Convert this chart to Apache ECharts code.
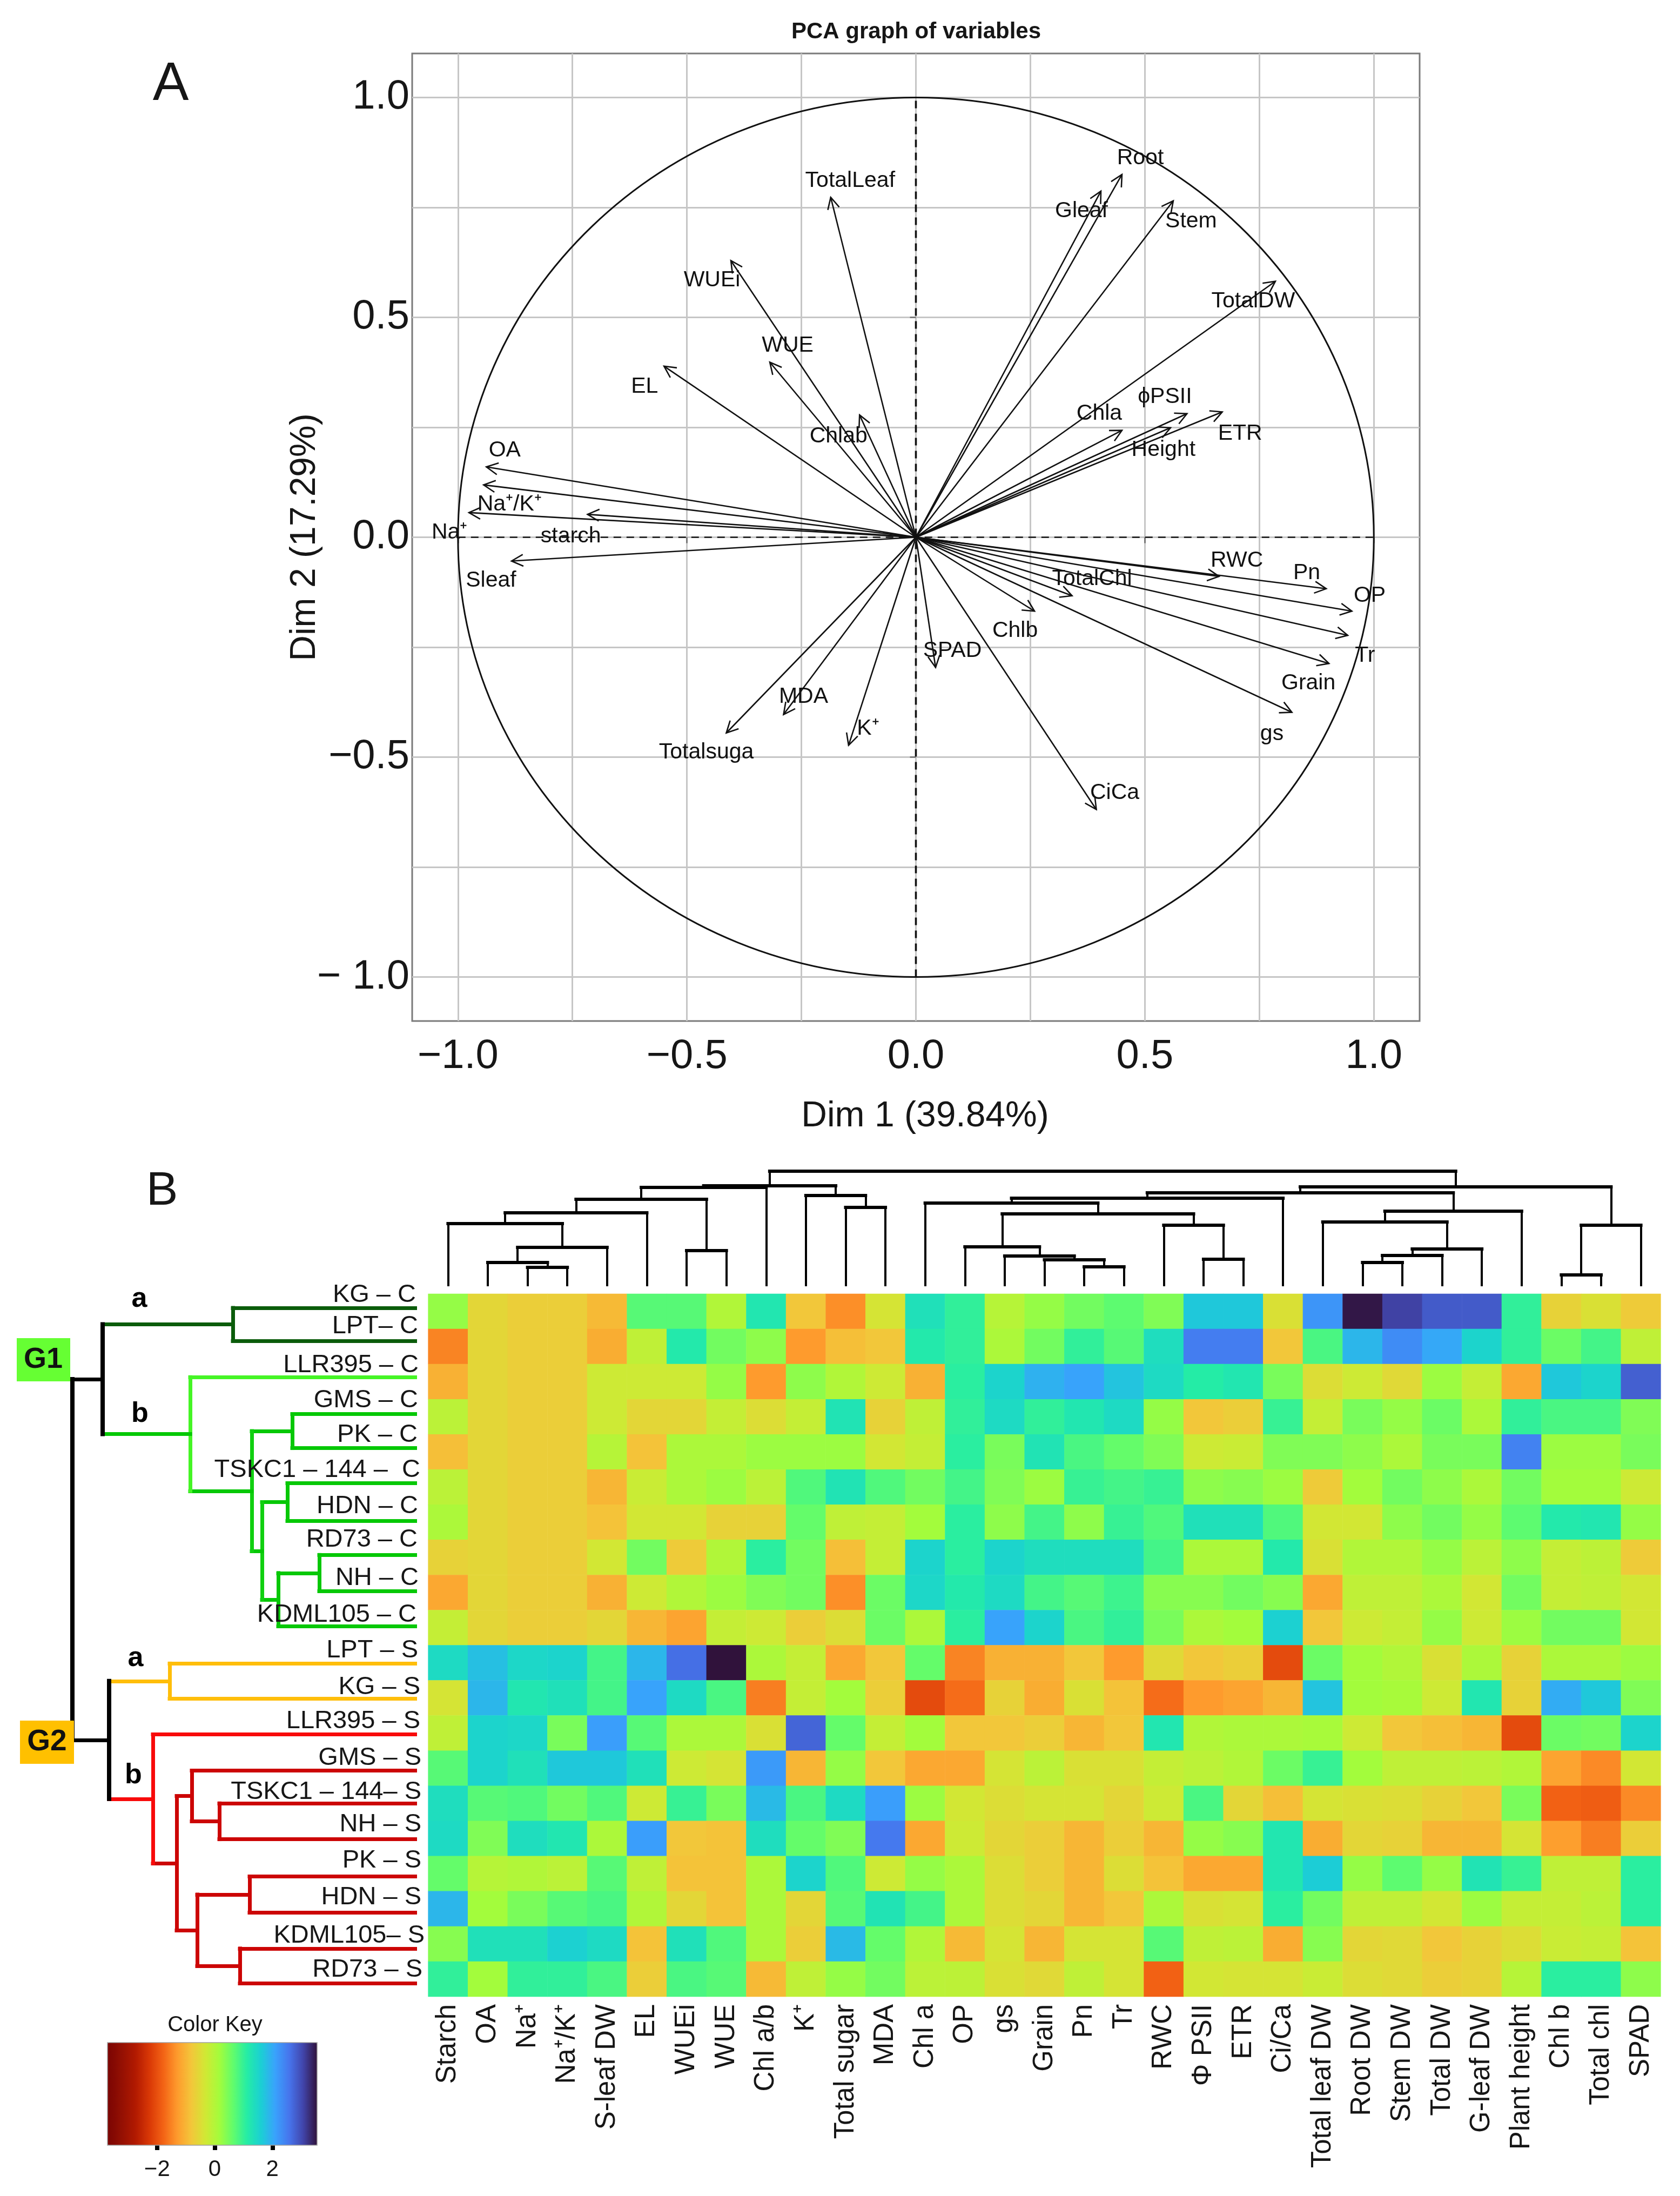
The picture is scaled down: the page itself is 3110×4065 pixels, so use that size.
<!DOCTYPE html>
<html><head><meta charset="utf-8">
<script src="https://cdn.jsdelivr.net/npm/echarts@6/dist/echarts.min.js"></script>
<style>html,body{margin:0;padding:0;background:#fff}#c{width:3110px;height:4065px}</style>
</head><body><div id="c"></div>
<script>
// ---------- Panel A data: variable loadings on Dim 1 / Dim 2 ----------
const pcaNames = ['TotalLeaf','WUEi','WUE','EL','Chlab','OA','Na⁺/K⁺','Na⁺','starch','Sleaf','Gleaf','Root','Stem','TotalDW','Chla','ϕPSII','Height','ETR','RWC','Pn','OP','Tr','Grain','gs','TotalChl','Chlb','SPAD','CiCa','Totalsuga','MDA','K⁺'];
const pcaDim1 = [-0.186,-0.404,-0.319,-0.550,-0.123,-0.938,-0.944,-0.976,-0.717,-0.883,0.404,0.450,0.562,0.785,0.450,0.592,0.556,0.669,0.662,0.896,0.952,0.943,0.902,0.821,0.341,0.259,0.043,0.394,-0.414,-0.289,-0.147];
const pcaDim2 = [0.773,0.629,0.398,0.389,0.278,0.160,0.119,0.056,0.052,-0.054,0.787,0.825,0.765,0.582,0.243,0.281,0.249,0.285,-0.089,-0.117,-0.168,-0.223,-0.287,-0.398,-0.133,-0.168,-0.296,-0.619,-0.445,-0.403,-0.473];

// ---------- Panel B data ----------
const rowNames = ['KG – C','LPT– C','LLR395 – C','GMS – C','PK – C','TSKC1 – 144 –  C','HDN – C','RD73 – C','NH – C','KDML105 – C','LPT – S','KG – S','LLR395 – S','GMS – S','TSKC1 – 144– S','NH – S','PK – S','HDN – S','KDML105– S','RD73 – S'];
const colNames = ['Starch','OA','Na⁺','Na⁺/K⁺','S-leaf DW','EL','WUEi','WUE','Chl a/b','K⁺','Total sugar','MDA','Chl a','OP','gs','Grain','Pn','Tr','RWC','Φ PSII','ETR','Ci/Ca','Total leaf DW','Root DW','Stem DW','Total DW','G-leaf DW','Plant height','Chl b','Total chl','SPAD'];
const rowKGC  = [.35,-.5,-.6,-.6,-.85,.8,.8,.1,1.3,-.7,-1.3,-.3,1.4,1.1,.05,.35,.6,.75,.5,1.75,1.75,-.35,2.3,3.55,3.15,2.9,2.9,1.1,-.55,-.35,-.65];
const rowLPTC = [-1.4,-.5,-.6,-.6,-1,-.05,1.25,.6,.4,-1.2,-.8,-.7,1.25,1.1,.15,.6,1.1,.8,1.45,2.55,2.55,-.7,.9,1.95,2.4,2.1,1.6,1.1,.65,.95,-.05];
const rowLLRC = [-.95,-.5,-.6,-.6,-.2,-.2,-.2,.35,-1.2,.4,.1,-.2,-.95,1.15,1.6,2,2.15,1.8,1.5,1.2,1.3,.55,-.4,-.2,-.45,.3,-.1,-1.05,1.75,1.6,2.85];
const rowGMSC = [0,-.5,-.6,-.6,-.2,-.5,-.5,-.1,-.4,-.1,1.35,-.55,-.05,1.1,1.5,1.1,1.3,1.5,.35,-.7,-.6,1.05,-.1,.55,.35,.65,.15,1.1,.9,.9,.5];
const rowPKC  = [-.8,-.5,-.6,-.6,.05,-.75,.15,.15,.3,.3,.3,-.25,-.1,1.15,.55,1.35,.9,.7,.5,-.2,-.15,.5,.5,.4,.15,.55,.55,2.5,.3,.3,.55];
const rowTSKC = [0,-.5,-.6,-.6,-.9,-.15,.15,.3,0,.85,1.35,.85,.6,.95,.5,.3,1.05,.95,1.05,.4,.45,.3,-.65,.25,.6,.4,.15,.6,.25,.25,-.2];
const rowHDNC = [.15,-.5,-.6,-.6,-.75,-.25,-.25,-.55,-.55,.7,-.05,-.1,.25,1.15,.4,.95,.4,1.05,.85,1.4,1.4,.85,-.25,-.25,.4,.6,.35,.75,1.25,1.3,.35];
const rowRDC  = [-.55,-.5,-.6,-.6,-.25,.6,-.65,.1,1.15,.6,-.8,-.1,1.6,1.15,1.6,1.45,1.45,1.45,.95,.15,.15,1.25,-.35,.1,.1,.35,0,.4,-.1,-.02,-.65];
const rowNHC  = [-1.05,-.5,-.6,-.6,-.95,-.2,.1,.3,.5,.6,-1.3,.65,1.55,1.25,1.5,.95,.8,1,.45,.45,.6,.45,-1.05,-.05,-.05,.15,-.25,.6,-.1,-.05,-.25];
const rowKDC  = [-.1,-.5,-.6,-.6,-.5,-.9,-1.1,-.1,-.2,-.6,-.4,.65,.15,1.15,2.15,1.6,.9,1.1,.55,.15,.25,1.65,-.7,-.2,-.1,.35,-.2,.3,.6,.6,-.25];
const rowLPTS = [1.5,1.85,1.55,1.6,.95,1.95,2.7,3.6,.15,-.1,-1.05,-.7,.7,-1.4,-.95,-.95,-.7,-1.2,-.45,-.7,-.6,-1.95,.65,.25,.1,-.35,.15,-.55,.15,.15,.3];
const rowKGS  = [-.3,1.95,1.3,1.4,.95,2.15,1.5,.9,-1.45,-.1,.25,-.6,-1.95,-1.6,-.55,-1,-.35,-.75,-1.6,-1.2,-1.1,-.9,1.8,.25,.2,-.2,1.3,-.55,2.05,1.75,.5];
const rowLLRS = [-.05,1.6,1.55,.55,2.2,.8,.15,.15,-.35,2.8,.7,-.1,.25,-.7,-.7,-.6,-.9,-.7,1.3,.1,.15,.15,.2,-.2,-.7,-.8,-.9,-1.95,.65,.6,1.6];
const rowGMSS = [.8,1.6,1.4,1.75,1.75,1.4,-.2,-.3,2.25,-.9,.35,-.7,-1.05,-1.05,-.3,0,-.35,-.35,-.1,0,.1,.65,1.05,.25,-.05,-.05,0,.1,-1.1,-1.35,-.25];
const rowTSKS = [1.45,.8,.85,.6,.85,-.2,1.05,.55,1.9,.9,1.5,2.2,.3,-.25,-.4,-.3,-.3,-.5,-.2,.9,-.5,-.8,-.3,-.35,-.4,-.55,-.7,.55,-1.7,-1.75,-1.35];
const rowNHS  = [1.5,.5,1.45,1.3,.15,2.2,-.7,-.75,1.45,.7,.5,2.6,-1.05,-.2,-.5,-.6,-.9,-.6,-.9,.35,.45,1.3,-1,-.5,-.55,-.9,-.9,-.3,-1.15,-1.45,-.6];
const rowPKS  = [.7,.05,.1,0,.8,-.05,-.75,-.75,.15,1.6,.85,-.2,.35,.15,-.4,-.6,-.9,-.4,-.75,-1.05,-1.05,1.3,1.7,.35,.75,.35,1.35,1.05,-.05,-.05,1.15];
const rowHDNS = [1.95,.25,.55,.8,.9,.1,-.5,-.75,.15,-.5,.8,1.35,.95,.15,-.4,-.5,-.9,-.7,.15,-.35,-.3,1.15,.6,-.05,-.05,-.25,.3,-.1,-.1,0,1.15];
const rowKDS  = [.45,1.4,1.4,1.65,1.5,-.75,1.4,.85,.15,-.6,1.9,.7,.1,-.85,-.3,-.9,-.3,-.3,.8,-.05,0,-1,.45,-.5,-.45,-.7,-.55,-.4,-.15,-.1,-.75];
const rowRDS  = [1.1,.25,1.1,1.1,.9,-.6,.9,.8,-.85,-.05,.35,.6,0,-.02,-.35,-.45,-.05,-.3,-1.7,-.25,-.3,-.3,-.15,-.4,-.45,-.6,-.55,.05,1.15,1.15,.4];
const heatRows = [rowKGC,rowLPTC,rowLLRC,rowGMSC,rowPKC,rowTSKC,rowHDNC,rowRDC,rowNHC,rowKDC,rowLPTS,rowKGS,rowLLRS,rowGMSS,rowTSKS,rowNHS,rowPKS,rowHDNS,rowKDS,rowRDS];
const keyTicks = [-2,0,2];

// row dendrogram: [name, merge height, left, right]; a number is a row index
const rowLeafPos = [-.1,.84,1.87,2.92,3.89,4.89,5.96,6.93,7.96,8.96,10.02,11.02,12.04,13.07,14,15.02,16.08,17.11,18.13,19.12];
const rowTree = ['root',638,
  ['G1',582,
    ['G1a',341,0,1],
    ['G1b',420,2,['X',306,['Y1',231,3,4],['Y2',287,['Z1',240,5,6],['Z2',257,['Z3',181,7,8],9]]]]],
  ['G2',570,
    ['G2a',458,10,11],
    ['G2b',489,12,['P',445,['Q',417,13,['Q1',366,14,15]],['R',407,['R1',310,16,17],['R2',328,18,19]]]]]];
// column dendrogram: [merge height, left, right]; a number is a column index
const colTree = [213,
  [186,
    [183,[161,[136,[116,0,[72,[44,1,[35,2,3]],4]],5],[66,6,7]],8],
    [168,9,[146,10,11]]],
  [184,
    [173,
      [163,[154,12,[134,[73,13,[56,14,[49,15,[36,16,17]]]],[113,18,[50,19,20]]]],21],
      [139,[119,22,[69,[57,[44,23,24],25],26]],27]],
    [113,[21,28,29],30]]];

// ---------- layout and style tables ----------
const INK = '#161616', FONT = '"Liberation Sans", Arial, sans-serif';
const pcaLabelShift = [[36,-31],[-35,36],[33,-31],[-36,38],[-39,40],[34,-31],[48,36],[-36,37],[-31,41],[-38,36],[-36,37],[34,-30],[33,38],[-41,37],[-42,-31],[-41,-31],[-13,41],[33,40],[33,-29],[-36,-29],[33,-29],[32,38],[-38,37],[-37,40],[37,-31],[-36,36],[31,-31],[34,-31],[-37,36],[37,-33],[36,-31]];
const rowLabelRight = [770,774,775,774,773,778,774,773,775,771,774,778,778,780,780,780,780,780,786,782];
const rowLabelDy = [-30,-38,-31,-31,-32,-32,-30,-33,-27,-24,-23,-20,-22,-19,-21,-26,-24,-21,-15,-17];
const DG='#0b5c0b', G='#06c806', LG='#45f525', GOLD='#ffbe0a', RED='#f80a0a', DR='#cc0505', BK='#000';
const rowColors = {root:[BK,BK],G1:[BK,BK],G1a:[DG,DG],G1b:[G,LG],X:[G,'#10d010'],Y1:[G,G],Y2:[G,'#10d010'],Z1:[G,G],Z2:[G,G],Z3:[G,G],
  G2:[BK,BK],G2a:[GOLD,GOLD],G2b:[RED,RED],P:[DR,DR],Q:[DR,DR],Q1:[DR,DR],R:[DR,DR],R1:[DR,DR],R2:[DR,DR]};
const turboLowToHigh = ['#7a0403','#931003','#b11901','#d93806','#f36315','#fe9b2d','#f3c63a','#d1e834','#a4fc3b','#61fc6c','#24eca6','#1bcfd4','#39a2fc','#4675ed','#4145ab','#30123b'];

// ---------- build marks ----------
const heatData = [];
heatRows.forEach((r,j)=>r.forEach((v,i)=>heatData.push([i,j,v])));

const rowSegs = [];
function walkRow(n){
  if (typeof n === 'number') return rowLeafPos[n];
  const [name,h,a,b] = n, c = rowColors[name];
  const ya = walkRow(a), yb = walkRow(b), w = name==='root'||name==='G1'||name==='G2' ? 8 : 7;
  [[a,ya],[b,yb]].forEach(([k,y])=>{
    if (typeof k === 'number') rowSegs.push({coords:[[h,y],[0,y]],lineStyle:{color:c[1],width:7,opacity:1,cap:'square'}});
    else rowSegs.push({coords:[[h,y],[k[1],y]],lineStyle:{color:rowColors[k[0]][0],width:7,opacity:1,cap:'square'}});
  });
  rowSegs.push({coords:[[h,ya],[h,yb]],lineStyle:{color:c[1],width:w,opacity:1,cap:'square'}});
  return (ya+yb)/2;
}
walkRow(rowTree);

const colSegs = [];
function walkCol(n){
  if (typeof n === 'number') return n;
  const [h,a,b] = n, xa = walkCol(a), xb = walkCol(b);
  const ha = typeof a === 'number' ? 0 : a[0], hb = typeof b === 'number' ? 0 : b[0];
  colSegs.push({coords:[[xa,ha],[xa,h]],lineStyle:{color:'#000',width:4,opacity:1}},{coords:[[xb,hb],[xb,h]],lineStyle:{color:'#000',width:4,opacity:1}},{coords:[[xa,h],[xb,h]],lineStyle:{color:'#000',width:6,opacity:1,cap:'square'}});
  return (xa+xb)/2;
}
walkCol(colTree);

const gridVals = [-1,-.75,-.5,-.25,0,.25,.5,.75,1], majorVals = [-1,-.5,0,.5,1];
const xFmt = v => (v<0?'−':'')+Math.abs(v).toFixed(1);
const yFmt = v => v===-1 ? '− 1.0' : (v<0?'−':'')+Math.abs(v).toFixed(1);
const txt = (text,x,y,size,extra) => ({type:'text',silent:true,z:50,x,y,style:Object.assign({text,font:`${size}px ${FONT}`,fill:INK,align:'center',verticalAlign:'middle'},extra||{})});

const option = {
  animation:false, backgroundColor:'#fff',
  title:[{text:'PCA graph of variables',left:1691,top:54,textAlign:'center',textVerticalAlign:'middle',textStyle:{fontFamily:FONT,fontWeight:'bold',fontSize:42,color:INK}}],
  grid:[
    {left:763,top:99,width:1865,height:1791,show:true,borderColor:'#7a7a7a',borderWidth:3,backgroundColor:'transparent'},
    {left:792.6,top:2395,width:2281.8,height:1301},
    {left:0,top:2395,width:772,height:1301},
    {left:792.6,top:2150,width:2281.8,height:231},
    {left:199,top:3781,width:388,height:190}
  ],
  xAxis:[
    {type:'value',gridIndex:0,min:-1.1,max:1.1,position:'top',axisLine:{show:false},axisTick:{show:false,customValues:gridVals},axisLabel:{show:false,customValues:gridVals},splitLine:{show:true,lineStyle:{color:'#c6c6c6',width:3}}},
    {type:'value',gridIndex:0,min:-1.1,max:1.1,position:'bottom',axisLine:{show:false},axisTick:{show:true,length:11,customValues:majorVals,lineStyle:{color:'#7a7a7a',width:3}},axisLabel:{show:true,customValues:majorVals,formatter:xFmt,fontFamily:FONT,fontSize:76,color:INK,margin:28},splitLine:{show:false},
     name:'Dim 1 (39.84%)',nameLocation:'middle',nameGap:144,nameTextStyle:{fontFamily:FONT,fontSize:66,color:INK,padding:[0,0,0,34]}},
    {type:'category',gridIndex:1,data:colNames,position:'bottom',axisLine:{show:false},axisTick:{show:false},axisLabel:{interval:0,rotate:90,fontFamily:FONT,fontSize:51,color:INK,margin:14},splitLine:{show:false}},
    {type:'value',gridIndex:2,min:0,max:772,inverse:true,show:false},
    {type:'value',gridIndex:3,min:-0.5,max:30.5,show:false},
    {type:'value',gridIndex:4,min:-3.72,max:3.55,axisLine:{show:false},axisTick:{show:true,length:9,customValues:keyTicks,lineStyle:{color:'#000',width:8}},axisLabel:{customValues:keyTicks,formatter:v=>v<0?'−'+(-v):String(v),fontFamily:FONT,fontSize:42,color:INK,margin:24},splitLine:{show:false}}
  ],
  yAxis:[
    {type:'value',gridIndex:0,min:-1.1,max:1.1,position:'right',axisLine:{show:false},axisTick:{show:false,customValues:gridVals},axisLabel:{show:false,customValues:gridVals},splitLine:{show:true,lineStyle:{color:'#c6c6c6',width:3}}},
    {type:'value',gridIndex:0,min:-1.1,max:1.1,position:'left',axisLine:{show:false},axisTick:{show:true,length:11,customValues:majorVals,lineStyle:{color:'#7a7a7a',width:3}},axisLabel:{show:true,customValues:majorVals,formatter:yFmt,fontFamily:FONT,fontSize:76,color:INK,margin:5},splitLine:{show:false},
     name:'Dim 2 (17.29%)',nameLocation:'middle',nameGap:198,nameRotate:90,nameMoveOverlap:false,nameTextStyle:{fontFamily:FONT,fontSize:66,color:INK,verticalAlign:'middle'}},
    {type:'category',gridIndex:1,data:rowNames,inverse:true,show:false},
    {type:'value',gridIndex:2,min:-.5,max:19.5,inverse:true,show:false},
    {type:'value',gridIndex:3,min:0,max:231,show:false},
    {type:'value',gridIndex:4,min:0,max:1,show:false}
  ],
  visualMap:[{type:'continuous',seriesIndex:1,min:-3.6,max:3.6,orient:'horizontal',left:199,top:3781,itemWidth:190,itemHeight:388,text:null,calculable:false,showLabel:false,realtime:false,hoverLink:false,inRange:{color:turboLowToHigh},padding:0,borderWidth:0,textStyle:{fontSize:1,color:'rgba(0,0,0,0)'}}],
  series:[
    {type:'custom',xAxisIndex:1,yAxisIndex:1,silent:true,z:5,clip:false,data:pcaNames.map((n,i)=>[pcaDim1[i],pcaDim2[i]]),encode:{x:0,y:1},
     renderItem(params,api){
       const o=api.coord([0,0]), t=api.coord([api.value(0),api.value(1)]), a=Math.atan2(t[1]-o[1],t[0]-o[0]), L=24, S=.47;
       const s=pcaLabelShift[params.dataIndex];
       const line={stroke:'#111',lineWidth:2.6,fill:null};
       return {type:'group',children:[
         {type:'line',shape:{x1:o[0],y1:o[1],x2:t[0],y2:t[1]},style:line},
         {type:'polyline',shape:{points:[[t[0]-L*Math.cos(a-S),t[1]-L*Math.sin(a-S)],t,[t[0]-L*Math.cos(a+S),t[1]-L*Math.sin(a+S)]]},style:line},
         {type:'text',style:{text:pcaNames[params.dataIndex],x:t[0]+s[0],y:t[1]+s[1],font:`41px ${FONT}`,fill:'#111',align:'center',verticalAlign:'middle'},z2:5}
       ]};
     }},
    {type:'heatmap',xAxisIndex:2,yAxisIndex:2,data:heatData,silent:true,progressive:0,itemStyle:{borderWidth:0},emphasis:{disabled:true}},
    {type:'lines',coordinateSystem:'cartesian2d',xAxisIndex:3,yAxisIndex:3,polyline:false,silent:true,data:rowSegs,z:6},
    {type:'custom',xAxisIndex:3,yAxisIndex:3,silent:true,z:7,clip:false,data:rowNames.map((n,i)=>[0,i]),encode:{x:0,y:1},
     renderItem(params,api){
       const p=api.coord([0,api.value(1)]), i=params.dataIndex;
       return {type:'text',style:{text:rowNames[i],x:rowLabelRight[i],y:p[1]+rowLabelDy[i],font:`47px ${FONT}`,fill:INK,align:'right',verticalAlign:'middle'}};
     }},
    {type:'lines',coordinateSystem:'cartesian2d',xAxisIndex:4,yAxisIndex:4,polyline:false,silent:true,data:colSegs,z:6},
    // unit circle and dashed zero axes of the variables plot
    {type:'custom',xAxisIndex:1,yAxisIndex:1,silent:true,z:4,clip:false,data:[[0,0]],encode:{x:0,y:1},
     renderItem(params,api){
       const c=api.coord([0,0]), r=api.coord([1,1]);
       const a=api.coord([-1,0]), b=api.coord([0,-1]);
       return {type:'group',children:[
         {type:'ellipse',shape:{cx:c[0],cy:c[1],rx:r[0]-c[0],ry:c[1]-r[1]},style:{stroke:'#111',lineWidth:3,fill:null}},
         {type:'line',shape:{x1:a[0],y1:a[1],x2:r[0],y2:a[1]},style:{stroke:'#111',lineWidth:2.6,lineDash:[14,10]}},
         {type:'line',shape:{x1:b[0],y1:b[1],x2:b[0],y2:r[1]},style:{stroke:'#111',lineWidth:3.6,lineDash:[14,10]}}
       ]};
     }}
  ],
  graphic:[
    txt('A',316,157,100),
    txt('B',300,2206,88),
    {type:'rect',silent:true,z:40,shape:{x:31,y:2477,width:99,height:80},style:{fill:'#66ff33'}},
    txt('G1',80,2517,54,{font:`bold 54px ${FONT}`,fill:'#111'}),
    {type:'rect',silent:true,z:40,shape:{x:37,y:3185,width:100,height:80},style:{fill:'#ffc000'}},
    txt('G2',87,3225,55,{font:`bold 55px ${FONT}`,fill:'#111'}),
    txt('a',258,2405,52,{font:`bold 52px ${FONT}`,fill:'#000'}),
    txt('b',259,2618,52,{font:`bold 52px ${FONT}`,fill:'#000'}),
    txt('a',251,3070,52,{font:`bold 52px ${FONT}`,fill:'#000'}),
    txt('b',247,3287,52,{font:`bold 52px ${FONT}`,fill:'#000'}),
    txt('Color Key',398,3749,40),
    {type:'rect',silent:true,z:40,shape:{x:199,y:3781,width:388,height:190},style:{fill:null,stroke:'#a0a0a0',lineWidth:1.5}}
  ]
};
const chart = echarts.init(document.getElementById('c'),null,{renderer:'canvas',width:3110,height:4065,devicePixelRatio:1});
chart.setOption(option);
</script></body></html>
